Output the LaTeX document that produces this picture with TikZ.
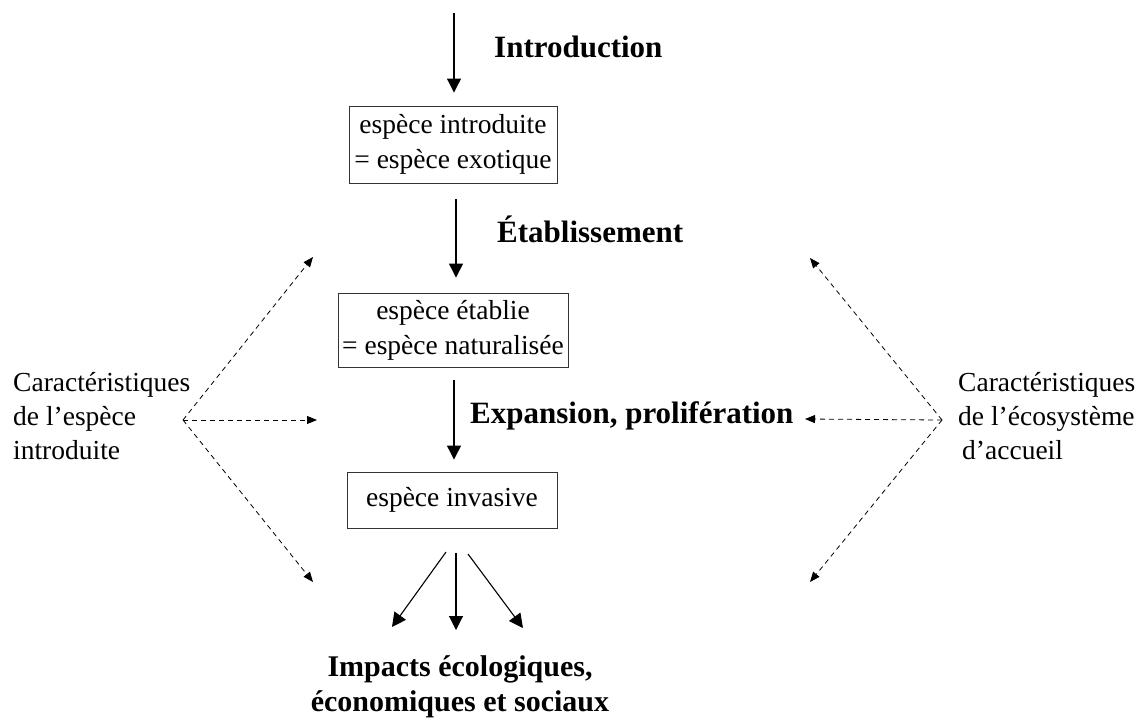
\documentclass[tikz,border=0pt]{standalone}
\usepackage{fontspec}
\setmainfont{Liberation Serif}
\usetikzlibrary{arrows.meta}
\begin{document}
\begin{tikzpicture}[x=1pt,y=-1pt,
  box/.style={draw=black!80,line width=0.9pt,inner sep=0pt,align=center,
    font=\fontsize{27.5}{35}\selectfont},
  lbl/.style={anchor=base west,inner sep=0pt,font=\fontsize{31}{36}\bfseries\selectfont},
  side/.style={inner sep=0pt,align=left,font=\fontsize{27.5}{34}\selectfont},
  arr/.style={line width=1.1pt,-{Triangle[width=14pt,length=14pt]}},
  darr/.style={line width=0.8pt,dash pattern=on 5pt off 4pt,-{Triangle[length=10pt,width=8pt]}}]
\useasboundingbox[fill=white] (0,0) rectangle (1139,725);

% boxes
\node[box,minimum width=208pt,minimum height=77pt] (b1) at (453,144.5) {espèce introduite\\= espèce exotique};
\node[box,minimum width=230pt,minimum height=74pt] (b2) at (453,330) {espèce établie\\= espèce naturalisée};
\node[box,minimum width=210pt,minimum height=56pt] (b3) at (452,500) {espèce invasive};

% stage labels
\node[lbl] (lintro) at (494,57) {Introduction};
\node[lbl] (letab) at (497,242) {Établissement};
\node[lbl] (lexp) at (470,423) {Expansion, prolifération};

% final text
\node[inner sep=0pt,align=center,font=\fontsize{30}{35}\bfseries\selectfont] (imp) at (460,687)
  {Impacts écologiques,\\économiques et sociaux};

% side texts
\node[side,anchor=west] (cl) at (13,416.5) {Caractéristiques\\de l’espèce\\introduite};
\node[side,anchor=west] (cr) at (958,416.5) {Caractéristiques\\de l’écosystème\\\hspace*{4pt}d’accueil};

% main vertical arrows
\coordinate (top) at (454,13);
\draw[arr,shorten >=13pt] (top) -- (top |- b1.north);
\draw[arr,shorten <=16pt,shorten >=15pt] (456,0 |- b1.south) -- (456,0 |- b2.north);
\draw[arr,shorten <=13pt,shorten >=12pt] (454,0 |- b2.south) -- (454,0 |- b3.north);

% fan of impact arrows
\coordinate (f1s) at (446,552); \coordinate (f1e) at (392,627);
\coordinate (f2s) at (456,553); \coordinate (f2e) at (456,630);
\coordinate (f3s) at (468,554); \coordinate (f3e) at (523,628);
\draw[arr] (f1s) -- (f1e);
\draw[arr] (f2s) -- (f2e);
\draw[arr] (f3s) -- (f3e);

% dashed influence arrows, left
\coordinate (lo) at (183,420);
\coordinate (lu) at (313,257);
\coordinate (lm) at (317,420);
\coordinate (ld) at (313,582);
\draw[darr] (lo) -- (lu);
\draw[darr] (lo) -- (lm);
\draw[darr] (lo) -- (ld);

% dashed influence arrows, right
\coordinate (ro) at (942,420);
\coordinate (ru) at (810,258);
\coordinate (rm) at (805,419);
\coordinate (rd) at (810,582);
\draw[darr] (ro) -- (ru);
\draw[darr] (ro) -- (rm);
\draw[darr] (ro) -- (rd);
\end{tikzpicture}
\end{document}
